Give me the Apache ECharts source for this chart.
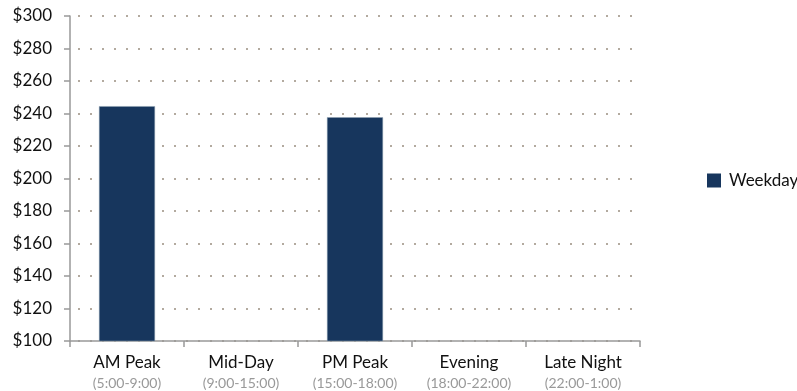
<!DOCTYPE html>
<html>
<head>
<meta charset="utf-8">
<script src="https://cdn.jsdelivr.net/npm/echarts@6/dist/echarts.min.js"></script>
<style>
  html, body { margin: 0; padding: 0; background: #fff; }
  #chart { width: 797px; height: 391px; }
</style>
</head>
<body>
<div id="chart"></div>
<script>
// Time-of-day periods and their hour ranges
const periods = ['AM Peak', 'Mid-Day', 'PM Peak', 'Evening', 'Late Night'];
const periodHours = ['(5:00-9:00)', '(9:00-15:00)', '(15:00-18:00)', '(18:00-22:00)', '(22:00-1:00)'];
// Weekday values (dollars); empty periods have no bar
const weekdayValues = [244.5, null, 237.7, null, null];
// Value axis range
const yMin = 100, yMax = 300, yStep = 20;

const FONT = 'Lato, "Open Sans", sans-serif';
const chart = echarts.init(document.getElementById('chart'));

chart.setOption({
  animation: false,
  backgroundColor: '#ffffff',
  textStyle: { fontFamily: FONT },
  grid: { left: 70, right: 157, top: 16, bottom: 50, containLabel: false },
  legend: {
    data: [{ name: 'Weekday', icon: 'rect' }],
    orient: 'vertical',
    left: 702,
    top: 167,
    itemWidth: 14,
    itemHeight: 14,
    itemGap: 8,
    itemStyle: { borderWidth: 0 },
    textStyle: { fontFamily: FONT, fontSize: 17, color: '#111', padding: [0, 0, 0, 3] }
  },
  xAxis: {
    type: 'category',
    data: periods,
    axisLine: { lineStyle: { color: '#999', width: 1.5 } },
    axisTick: { show: true, alignWithLabel: false, length: 6, lineStyle: { color: '#999', width: 1.5 } },
    axisLabel: {
      margin: 12,
      interval: 0,
      formatter: function (v, i) {
        return '{n|' + v + '}\n{h|' + periodHours[i] + '}';
      },
      rich: {
        n: { fontFamily: FONT, fontSize: 17, color: '#111', lineHeight: 20 },
        h: { fontFamily: FONT, fontSize: 14, color: '#999', lineHeight: 20 }
      }
    },
    splitLine: { show: false }
  },
  yAxis: {
    type: 'value',
    min: yMin,
    max: yMax,
    interval: yStep,
    axisLine: { show: true, lineStyle: { color: '#999', width: 1.5 } },
    axisTick: { show: true, inside: false, length: 6, lineStyle: { color: '#999', width: 1.5 } },
    axisLabel: {
      margin: 18,
      fontFamily: FONT,
      fontSize: 17,
      color: '#111',
      formatter: function (v) { return '$' + v; }
    },
    splitLine: {
      show: true,
      lineStyle: { color: '#b3aa9f', width: 2, type: [2, 10], dashOffset: -8 }
    }
  },
  series: [{
    name: 'Weekday',
    type: 'bar',
    data: weekdayValues,
    barWidth: 56,
    itemStyle: { color: '#17365d', borderColor: '#8fa0b3', borderWidth: 0.5 }
  }]
});
</script>
</body>
</html>
